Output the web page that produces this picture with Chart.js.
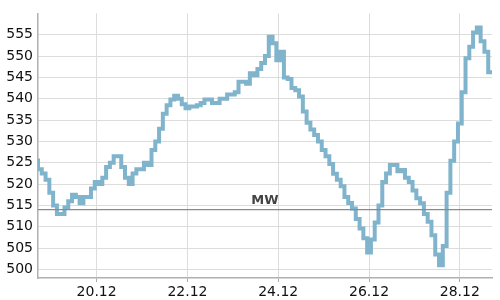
<!DOCTYPE html>
<html>
<head>
<meta charset="utf-8">
<script src="https://cdn.jsdelivr.net/npm/chart.js@4/dist/chart.umd.min.js"></script>
<style>
  html, body { margin: 0; padding: 0; background: #fff; }
  #wrap { width: 500px; height: 300px; }
</style>
</head>
<body>
<div id="wrap"><canvas id="c" width="500" height="300"></canvas></div>
<script>
// Hours counted from 18.12 00:00; one value every 2 hours
const startHour = 17;
const stepHours = 2;
const prices = [
  526, 523.5, 522.5, 521, 518, 515, 513, 513, 514.5, 516,
  517.5, 517, 515.5, 517, 517, 519, 520.5, 520, 521.5, 524,
  525, 526.5, 526.5, 524, 521.5, 520, 522.5, 523.5, 523.5, 525,
  524.5, 528, 530, 533, 536.5, 538.5, 539.8, 540.7, 540, 538.7,
  537.8, 538.2, 538.2, 538.5, 539, 539.8, 539.8, 539, 539, 540,
  540, 541, 541, 541.5, 544, 544, 543.5, 546, 545.5, 547,
  548.4, 550, 554.5, 553, 549, 551, 545, 544.6, 542.5, 542,
  540.5, 537, 534.4, 532.8, 531.5, 530, 528, 526.5, 524.7, 522.4,
  521, 519.5, 517, 515.6, 514.3, 511.8, 509.6, 507.3, 504, 507,
  511, 515, 520.5, 522.5, 524.5, 524.5, 523, 523.3, 521.5, 520.5,
  518.5, 516.7, 515.5, 513, 511.2, 508, 503.5, 501, 505.5, 518,
  525.5, 530, 534.2, 541.5, 549.5, 552.2, 555.5, 556.7, 553.5, 551,
  546.2
];
const meanValue = 514;
const meanLabel = "MW";
const dateTickHours = [48, 96, 144, 192, 240];
const dateTickLabels = ["20.12", "22.12", "24.12", "26.12", "28.12"];
const yTicks = [500, 505, 510, 515, 520, 525, 530, 535, 540, 545, 550, 555];
const xMin = 17, xMax = 257, yMin = 498, yMax = 560;

const points = prices.map((v, i) => ({ x: startHour + i * stepHours, y: v }));

const meanPlugin = {
  id: 'meanLine',
  afterDatasetsDraw(chart) {
    const { ctx, chartArea, scales } = chart;
    const y = scales.y.getPixelForValue(meanValue);
    ctx.save();
    ctx.strokeStyle = '#8a8a8a';
    ctx.lineWidth = 1.3;
    ctx.beginPath();
    ctx.moveTo(chartArea.left, y);
    ctx.lineTo(chartArea.right, y);
    ctx.stroke();
    ctx.fillStyle = '#444';
    ctx.font = 'bold 13px "DejaVu Sans"';
    ctx.textAlign = 'center';
    ctx.textBaseline = 'bottom';
    ctx.fillText(meanLabel, (chartArea.left + chartArea.right) / 2, y - 3);
    ctx.restore();
  }
};

new Chart(document.getElementById('c'), {
  type: 'line',
  data: {
    datasets: [{
      data: points,
      stepped: 'after',
      borderColor: '#7fb4cc',
      borderWidth: 4,
      pointRadius: 0,
      fill: false
    }]
  },
  options: {
    responsive: false,
    animation: false,
    layout: { padding: { top: 4, right: 8, left: 0, bottom: 0 } },
    plugins: { legend: { display: false }, tooltip: { enabled: false } },
    scales: {
      x: {
        type: 'linear',
        min: xMin, max: xMax,
        afterBuildTicks(s) { s.ticks = dateTickHours.map(v => ({ value: v })); },
        afterFit(s) { s.height = 22; },
        ticks: {
          callback: (v) => dateTickLabels[dateTickHours.indexOf(v)],
          color: '#111',
          font: { family: 'DejaVu Sans', size: 14 },
          maxRotation: 0,
          padding: 2
        },
        grid: { color: '#dcdcdc', borderDash: [3, 3], tickLength: 4, tickColor: '#aaa', tickBorderDash: [] },
        border: { color: '#b0b0b0', width: 1.5, dash: [] }
      },
      y: {
        min: yMin, max: yMax,
        afterBuildTicks(s) { s.ticks = yTicks.map(v => ({ value: v })); },
        afterFit(s) { s.width = 38; },
        ticks: {
          color: '#111',
          font: { family: 'DejaVu Sans', size: 14 },
          padding: 5
        },
        grid: { color: '#dcdcdc', borderDash: [3, 3], drawTicks: false },
        border: { color: '#b0b0b0', width: 1.5 }
      }
    }
  },
  plugins: [meanPlugin]
});
</script>
</body>
</html>
